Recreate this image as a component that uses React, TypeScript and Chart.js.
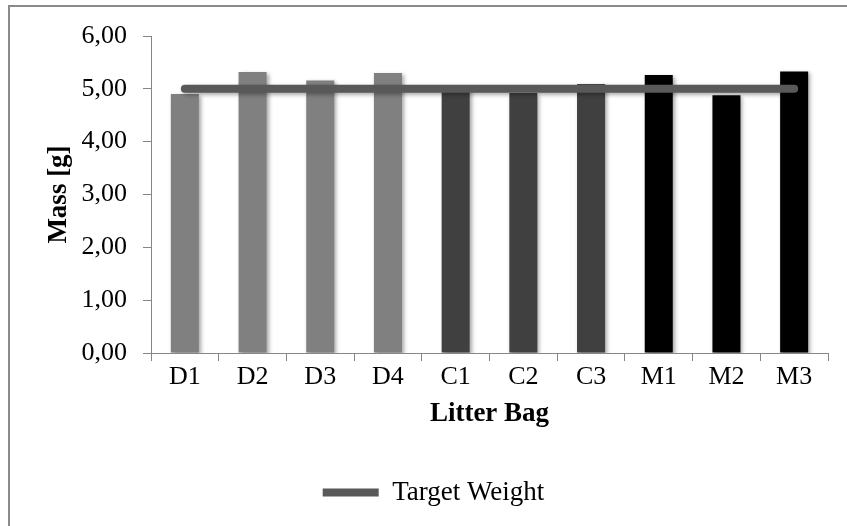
import React, { useEffect, useRef } from "react";
import { Chart, registerables } from "chart.js";

Chart.register(...registerables);

const categories = ["D1", "D2", "D3", "D4", "C1", "C2", "C3", "M1", "M2", "M3"];
const massValues = [4.9, 5.32, 5.16, 5.3, 5.03, 4.92, 5.09, 5.26, 4.88, 5.33];
const barColors = ["#808080", "#808080", "#808080", "#808080", "#404040", "#404040", "#404040", "#000000", "#000000", "#000000"];
const targetWeight = [5, 5, 5, 5, 5, 5, 5, 5, 5, 5];
const yTicks = [0, 1, 2, 3, 4, 5, 6];

const FONT = "'Liberation Serif', 'Times New Roman', serif";

const shadowPlugin = {
  id: "shadowPlugin",
  beforeDatasetsDraw(chart: any) {
    const ctx = chart.ctx;
    ctx.save();
    ctx.shadowColor = "rgba(0,0,0,0.35)";
    ctx.shadowBlur = 4;
    ctx.shadowOffsetX = 2;
    ctx.shadowOffsetY = 2;
  },
  afterDatasetsDraw(chart: any) {
    chart.ctx.restore();
  },
};

export default function App() {
  const ref = useRef<HTMLCanvasElement | null>(null);

  useEffect(() => {
    if (!ref.current) return;
    const chart = new Chart(ref.current, {
      type: "bar",
      data: {
        labels: categories,
        datasets: [
          {
            type: "line",
            label: "Target Weight",
            data: targetWeight,
            borderColor: "#595959",
            backgroundColor: "#595959",
            borderWidth: 8,
            borderCapStyle: "round",
            pointRadius: 0,
            order: 0,
          } as any,
          {
            type: "bar",
            label: "Mass",
            data: massValues,
            backgroundColor: barColors,
            borderWidth: 0,
            categoryPercentage: 1,
            barPercentage: 0.414,
            order: 1,
          } as any,
        ],
      },
      options: {
        responsive: false,
        animation: false,
        layout: { padding: { left: 39, right: 19, top: 36, bottom: 10 } },
        plugins: {
          tooltip: { enabled: false },
          legend: {
            position: "bottom",
            labels: {
              filter: (item: any) => item.text === "Target Weight",
              usePointStyle: true,
              pointStyle: "line",
              pointStyleWidth: 56,
              color: "#000",
              font: { family: FONT, size: 27 },
              padding: 10,
            },
          },
        },
        scales: {
          x: {
            offset: true,
            grid: {
              offset: true,
              drawOnChartArea: false,
              drawTicks: true,
              tickLength: 8,
              color: "#868686",
            },
            border: { color: "#868686", width: 1 },
            ticks: { color: "#000", font: { family: FONT, size: 26 }, padding: 1, maxRotation: 0 },
            title: {
              display: true,
              text: "Litter Bag",
              color: "#000",
              font: { family: FONT, size: 27, weight: "bold" },
              padding: { top: 4, bottom: 39 },
            },
            afterFit(scale: any) {
              scale.height = 116;
            },
          },
          y: {
            min: 0,
            max: 6,
            afterBuildTicks(scale: any) {
              scale.ticks = yTicks.map((v) => ({ value: v }));
            },
            grid: {
              drawOnChartArea: false,
              drawTicks: true,
              tickLength: 8,
              color: "#868686",
            },
            border: { color: "#868686", width: 1 },
            ticks: {
              color: "#000",
              font: { family: FONT, size: 26 },
              padding: 16,
              callback: (v: any) => Number(v).toFixed(2).replace(".", ","),
            },
            title: {
              display: true,
              text: "Mass [g]",
              color: "#000",
              font: { family: FONT, size: 27, weight: "bold" },
              padding: { top: 4, bottom: 4 },
            },
            afterFit(scale: any) {
              scale.width = 112;
            },
          },
        },
      },
      plugins: [shadowPlugin],
    } as any);
    return () => chart.destroy();
  }, []);

  return (
    <div style={{ position: "fixed", left: 0, top: 0, width: 847, height: 526, background: "#fff", overflow: "hidden" }}>
      <div
        style={{
          position: "absolute",
          left: 8,
          top: 5,
          width: 2000,
          height: 2000,
          borderTop: "2px solid #8a8a8a",
          borderLeft: "2px solid #8a8a8a",
        }}
      />
      <canvas ref={ref} width={847} height={526} style={{ position: "absolute", left: 0, top: 0, width: 847, height: 526 }} />
    </div>
  );
}
